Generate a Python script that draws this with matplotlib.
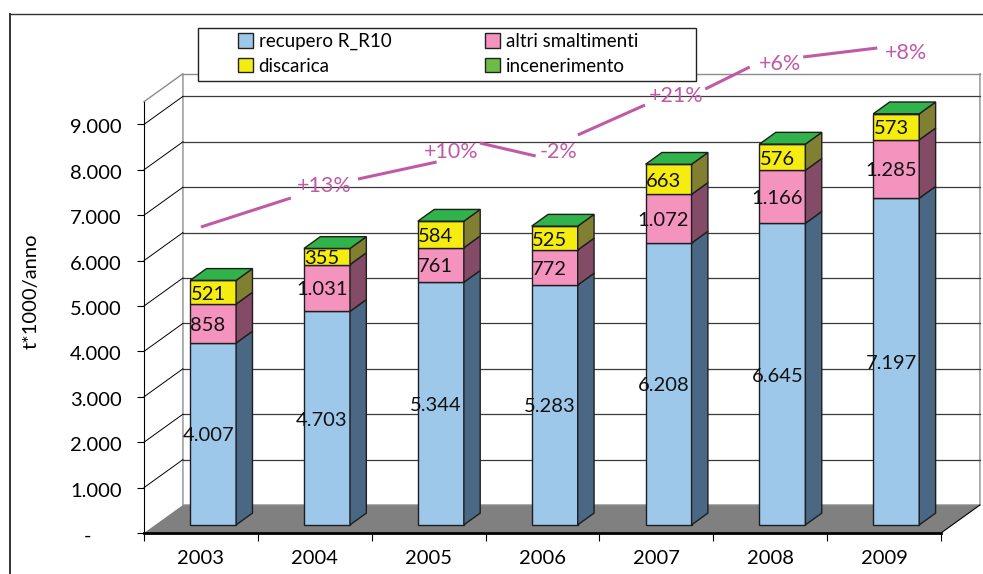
#!/usr/bin/env python

import matplotlib
matplotlib.use("Agg")
import matplotlib.pyplot as plt
import numpy as np
from matplotlib.lines import Line2D
from matplotlib.patches import Patch, Polygon, Rectangle
from matplotlib.transforms import ScaledTranslation

years = ["2003", "2004", "2005", "2006", "2007", "2008", "2009"]
recupero = [4007, 4703, 5344, 5283, 6208, 6645, 7197]
altri = [858, 1031, 761, 772, 1072, 1166, 1285]
discarica = [521, 355, 584, 525, 663, 576, 573]
incenerimento = [0, 0, 0, 0, 0, 0, 0]

y_ticks = [0, 1000, 2000, 3000, 4000, 5000, 6000, 7000, 8000, 9000]

# growth labels and the line pieces between them, in axis units
growth_labels = ["+13%", "+10%", "-2%", "+21%", "+6%", "+8%"]
growth_x = [1.58, 2.70, 3.64, 4.67, 5.59, 6.69]
growth_y = [7640, 8390, 8390, 9620, 10320, 10580]
line_x = [0.50, 1.29, 1.88, 2.57, 2.95, 3.44, 3.81, 4.40, 4.93, 5.32, 5.79, 6.44]
line_y = [6740, 7379, 7797, 8172, 8590, 8304, 8767, 9427, 9780, 10264, 10485, 10683]

W, H = 983, 574
DEPTH_X, DEPTH_Y = 0.342, 617  # how far the back wall is shifted
BAR_W = 0.404
NEAR, FAR = 0.29, 0.71
FONT = "Lato"
FS = 14.5
MAGENTA = "#C05AA6"

series = [
    ("recupero R_R10", recupero, "#9DC8EA", "#4A6784"),
    ("altri smaltimenti", altri, "#F493BE", "#844B66"),
    ("discarica", discarica, "#F5EC10", "#818032"),
    ("incenerimento", incenerimento, "#2FB34A", "#2FB34A"),
]


def fmt(v):
    return f"{v:,}".replace(",", ".")


def px(x, y):
    return x / W, 1 - y / H


plt.rcParams["font.family"] = [FONT, "DejaVu Sans"]
fig = plt.figure(figsize=(W / 100, H / 100), dpi=100)
ax = fig.add_axes([144 / W, (H - 533) / H, 797 / W, 431.3 / H])
ax.set_xlim(0, 7)
ax.set_ylim(0, 9500)
ax.patch.set_visible(False)
for side in ("top", "right"):
    ax.spines[side].set_visible(False)
ax.spines["left"].set_linewidth(0.8)
ax.spines["bottom"].set_linewidth(2)
ax.spines["bottom"].set_zorder(3)

# ticks
ax.set_yticks(y_ticks, ["-      " if v == 0 else fmt(v) for v in y_ticks], fontsize=FS)
ax.tick_params(axis="y", length=5, width=0.8, pad=11)
down = ScaledTranslation(0, -2 / 100, fig.dpi_scale_trans)  # labels sit 2px low in the original
for lab in ax.get_yticklabels():
    lab.set_transform(lab.get_transform() + down)
ax.set_xticks(np.arange(8), [])
ax.tick_params(axis="x", which="major", length=6, width=0.8)
ax.set_xticks(np.arange(7) + 0.5, years, minor=True, fontsize=FS)
ax.tick_params(axis="x", which="minor", length=0, pad=12)
ax.set_ylabel("t*1000/anno", fontsize=FS, labelpad=0)
ax.yaxis.set_label_coords((40 - 144) / 797, (533 - 291) / 431.3)

# walls and floor
ax.add_patch(Polygon([(0, 0), (DEPTH_X, DEPTH_Y), (7 + DEPTH_X, DEPTH_Y), (7, 0)],
                     closed=True, fc="#808080", ec="none", zorder=1, clip_on=False))
wall_x = [0, DEPTH_X, DEPTH_X, 7 + DEPTH_X, 7 + DEPTH_X]
wall_y = [9500, 9500 + DEPTH_Y, DEPTH_Y, DEPTH_Y, 9500 + DEPTH_Y]
ax.plot(wall_x, wall_y, color="#8C8C8C", lw=1, zorder=1, clip_on=False)
ax.plot([DEPTH_X, 7 + DEPTH_X], [9500 + DEPTH_Y] * 2, color="#8C8C8C", lw=1, zorder=1, clip_on=False)
for v in y_ticks[1:]:
    ax.plot([DEPTH_X, 7 + DEPTH_X], [v + DEPTH_Y] * 2, color="#3A3A3A", lw=0.9, zorder=1, clip_on=False)
    ax.plot([0, DEPTH_X], [v, v + DEPTH_Y], color="black", lw=0.7, zorder=1, clip_on=False)
ax.plot([7, 7 + DEPTH_X], [0, DEPTH_Y], color="black", lw=0.8, zorder=2, clip_on=False)

# bars
x = np.arange(len(years)) + 0.508 + NEAR * DEPTH_X
base = NEAR * DEPTH_Y
side_dx = (FAR - NEAR) * DEPTH_X
side_dy = (FAR - NEAR) * DEPTH_Y
bottom = np.full(len(years), base, dtype=float)
for name, values, color, dark in series:
    values = np.array(values, dtype=float)
    ax.bar(x, values, BAR_W, bottom=bottom, color=color, edgecolor="#1E1E1E",
           linewidth=1, zorder=3, clip_on=False)
    for xi, b, v in zip(x, bottom, values):
        if v == 0:
            continue
        r = xi + BAR_W / 2
        ax.add_patch(Polygon([(r, b), (r + side_dx, b + side_dy),
                              (r + side_dx, b + v + side_dy), (r, b + v)],
                             closed=True, fc=dark, ec="#1E1E1E", lw=1, zorder=3, clip_on=False))
        ax.text(xi - 0.044, b + v / 2 - 44, fmt(int(v)), ha="center", va="center",
                fontsize=FS, color="#111111", zorder=5)
    bottom = bottom + values

# top faces
for xi, t in zip(x, bottom):
    l, r = xi - BAR_W / 2, xi + BAR_W / 2
    ax.add_patch(Polygon([(l, t), (r, t), (r + side_dx, t + side_dy), (l + side_dx, t + side_dy)],
                         closed=True, fc=series[3][2], ec="#1E1E1E", lw=1, zorder=4, clip_on=False))

# growth line, one piece between each pair of labels
for i in range(0, len(line_x), 2):
    ax.plot(line_x[i:i + 2], line_y[i:i + 2], color=MAGENTA, lw=2.2, zorder=6,
            solid_capstyle="butt", clip_on=False)
for lab, gx, gy in zip(growth_labels, growth_x, growth_y):
    ax.text(gx, gy, lab, ha="center", va="center", fontsize=FS + 1, color=MAGENTA, zorder=6)

# legend box sits over the back wall
bx, by = px(198, 81)
ax.add_patch(Rectangle((bx, by), 498 / W, 53 / H, transform=fig.transFigure, fc="white",
                       ec="#222222", lw=1, zorder=7, clip_on=False))
legend_cols = [series[0], series[2], series[1], series[3]]
legend_colors = {"incenerimento": "#6BBD45"}
handles = [Patch(fc=legend_colors.get(s[0], s[2]), ec="#222222", lw=1, label=s[0]) for s in legend_cols]
leg = ax.legend(handles=handles, ncol=2, loc="upper left", bbox_to_anchor=px(238, 33),
                bbox_transform=fig.transFigure, fontsize=13.5, frameon=False,
                borderpad=0, borderaxespad=0, handlelength=0.78, handleheight=0.78,
                handletextpad=0.32, columnspacing=5.0, labelspacing=0.4)
leg.set_zorder(8)

# outer frame of the page
fig.add_artist(Line2D([px(10, 0)[0], 1], [px(0, 14)[1]] * 2, color="#333333", lw=1))
fig.add_artist(Line2D([px(10, 0)[0]] * 2, [px(0, 14)[1], 0], color="#333333", lw=1.4))

fig.savefig("out.png", dpi=100)
